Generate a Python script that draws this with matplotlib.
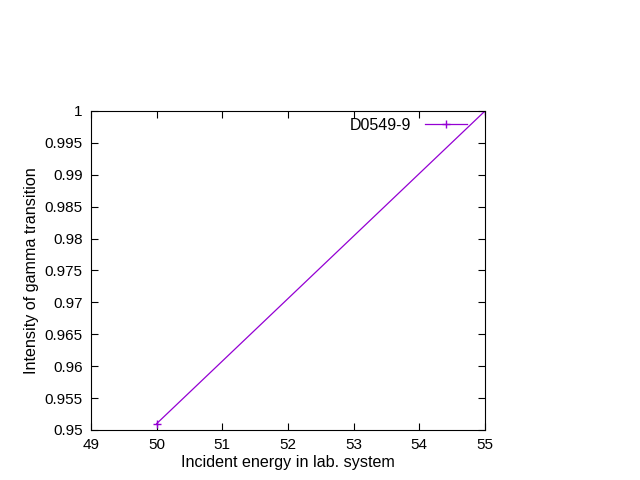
import matplotlib
matplotlib.use("Agg")
import matplotlib.pyplot as plt
from matplotlib.ticker import MultipleLocator

energy = [50, 55]
intensity = [0.951, 1.0]
label = "D0549-9"
color = "#9400D3"

plt.rcParams['font.family'] = ['Liberation Sans', 'DejaVu Sans']

fig = plt.figure(figsize=(6.4, 4.8), dpi=100)
ax = fig.add_axes([91 / 640, 50 / 480, 394 / 640, 319 / 480])

ax.plot(energy, intensity, color=color, lw=0.9, marker='+', ms=6, mew=1.0, label=label)

ax.set_xlim(49, 55)
ax.set_ylim(0.95, 1.0)
ax.xaxis.set_major_locator(MultipleLocator(1))
ax.yaxis.set_major_locator(MultipleLocator(0.005))
ax.yaxis.set_major_formatter(plt.FuncFormatter(lambda v, p: f"{v:.3f}".rstrip('0').rstrip('.')))
ax.tick_params(direction='in', top=True, right=True, length=5, width=0.8, labelsize=11, pad=6)
for s in ax.spines.values():
    s.set_linewidth(0.8)

ax.set_xlabel("Incident energy in lab. system", fontsize=11.6, labelpad=2)
ax.set_ylabel("Intensity of gamma transition", fontsize=11.6, labelpad=4)

leg = ax.legend(loc='upper right', frameon=False, markerfirst=False, fontsize=11.5,
                handlelength=2.6, handletextpad=0.9, borderpad=0, borderaxespad=0,
                bbox_to_anchor=((467 - 91) / 394, 1 - 7 / 319))

fig.savefig("out.png", dpi=100)
